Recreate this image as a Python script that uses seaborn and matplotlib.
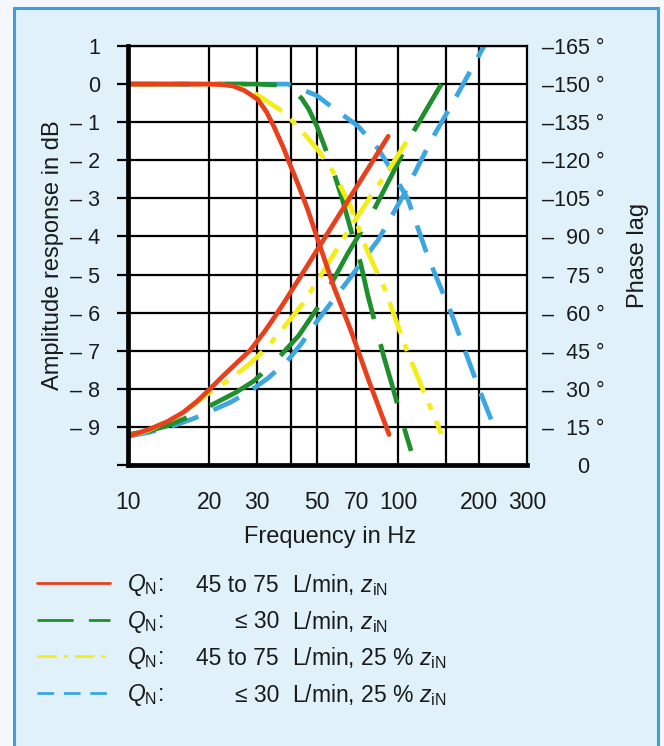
import numpy as np
import pandas as pd
import matplotlib
matplotlib.use("Agg")
import matplotlib.pyplot as plt
import seaborn as sns
from matplotlib.patches import Rectangle
from matplotlib.lines import Line2D
from matplotlib.ticker import NullFormatter

sns.set_theme(style="white")
plt.rcParams['font.family'] = ['Liberation Sans', 'DejaVu Sans']
plt.rcParams['mathtext.fontset'] = 'custom'
plt.rcParams['mathtext.rm'] = 'Liberation Sans'
plt.rcParams['mathtext.it'] = 'Liberation Sans:italic'
plt.rcParams['mathtext.bf'] = 'Liberation Sans:bold'

# ---------------- data ----------------
# amplitude in dB on the left axis; phase curves expressed on the same
# scale (phase_deg = (value + 10) * 15)
red_amp_f = [10, 20, 22, 24.5, 27, 30.2, 32.5, 34.6, 37.5, 40, 43, 46.3, 50.5, 58, 66.7, 78, 92.6]
red_amp_v = [0, 0, -0.01, -0.05, -0.17, -0.4, -0.72, -1.1, -1.65, -2.15, -2.7, -3.3, -4.1, -5.35, -6.45, -7.8, -9.2]
red_ph_f = [10, 12, 14, 16, 18, 20, 22.5, 25, 28.4, 32, 35, 37.7, 44, 50.9, 58, 66.7, 78, 91.9]
red_ph_v = [-9.25, -9.06, -8.86, -8.62, -8.33, -8.02, -7.66, -7.35, -6.98, -6.5, -6.1, -5.75, -5.0, -4.28, -3.64, -2.95, -2.18, -1.37]

green_amp_f = [10, 30, 35, 38, 41, 44, 46.7, 50, 53.5, 57.3, 62, 67, 72.9, 77.2, 83, 88.7, 95.6, 103, 111.7]
green_amp_v = [0, 0, -0.02, -0.06, -0.18, -0.38, -0.66, -1.1, -1.65, -2.24, -3.0, -3.85, -4.75, -5.54, -6.4, -7.18, -7.97, -8.8, -9.63]
green_ph_f = [10, 12, 14, 17, 20.7, 25, 29.2, 33, 37, 42.9, 50, 58, 65.3, 80, 94.1, 115, 144.6]
green_ph_v = [-9.2, -9.1, -8.97, -8.72, -8.4, -8.1, -7.8, -7.45, -7.1, -6.6, -5.9, -5.1, -4.43, -3.4, -2.43, -1.2, 0.0]

yellow_amp_f = [10, 20, 24, 28.4, 32, 37.7, 43, 50.4, 57.7, 66.7, 77.4, 88.7, 108.7, 125, 144.5]
yellow_amp_v = [0, 0, -0.03, -0.18, -0.4, -0.74, -1.15, -1.72, -2.32, -3.22, -4.43, -5.33, -7.07, -8.1, -9.18]
yellow_ph_f = [10, 12, 15, 17.5, 20, 24, 28.4, 33, 37.7, 44, 50.4, 66.7, 80, 94.1, 108.7]
yellow_ph_v = [-9.25, -9.08, -8.75, -8.42, -8.1, -7.73, -7.33, -6.88, -6.39, -5.8, -5.15, -3.75, -2.9, -2.16, -1.45]

blue_amp_f = [10, 39, 43.6, 50, 56.3, 71, 84.4, 94.1, 108.7, 129, 157, 198.5, 222]
blue_amp_v = [0, 0, -0.13, -0.3, -0.58, -1.1, -1.7, -2.24, -3.03, -4.54, -6.0, -7.97, -8.84]
blue_ph_f = [10, 12, 15, 17.5, 20, 24, 28.4, 33, 39, 44, 50.4, 66.7, 84.4, 105, 132, 165, 208]
blue_ph_v = [-9.25, -9.14, -8.95, -8.78, -8.6, -8.35, -8.05, -7.72, -7.26, -6.8, -6.2, -5.07, -4.09, -2.9, -1.5, -0.3, 1.0]

x_tick_vals = [10, 20, 30, 50, 70, 100, 200, 300]
x_grid_vals = [20, 30, 40, 50, 70, 100, 150, 200]
y_tick_vals = list(range(-10, 2))
y_tick_labels = ['' if v == -10 else ('– %d' % -v if v < 0 else str(v)) for v in y_tick_vals]
phase_vals = list(range(0, 166, 15))
phase_labels = []
for v in phase_vals:
    if v == 0:
        phase_labels.append('      0')
    elif v >= 100:
        phase_labels.append('–%d °' % v)
    else:
        phase_labels.append('–  %d °' % v)

legend_prefix = ['45 to 75', '≤ 30', '45 to 75', '≤ 30']
legend_suffix = [r'L/min, $z_{\mathrm{iN}}$', r'L/min, $z_{\mathrm{iN}}$',
                 r'L/min, 25 % $z_{\mathrm{iN}}$', r'L/min, 25 % $z_{\mathrm{iN}}$']

RED = '#e8401c'
GREEN = '#1f8f2e'
YELLOW = '#f3ee18'
BLUE = '#3ba7e2'
LW = 3.4
styles = {
    'red': dict(color=RED, linestyle='-'),
    'green': dict(color=GREEN, linestyle=(0, (13, 5.5))),
    'yellow': dict(color=YELLOW, linestyle=(0, (7, 2.5, 1.5, 2.5))),
    'blue': dict(color=BLUE, linestyle=(0, (6, 3.5))),
}
TXT = '#1a1a1a'
TICK_FS = 15.5
XTICK_FS = 16.5
LABEL_FS = 17
LEG_FS = 16.5

# ---------------- figure ----------------
W, H = 664, 746
fig = plt.figure(figsize=(W / 100, H / 100), dpi=100)
fig.patch.set_facecolor('#f4f8fa')
fig.patches.append(Rectangle((14 / W, -0.05), (658 - 14) / W, (1 - 8 / H) + 0.05,
                             transform=fig.transFigure, facecolor='#e0f1f9',
                             edgecolor='#3f9edc', lw=2.2, zorder=-10))

ax = fig.add_axes([128 / W, 1 - 465 / H, (527 - 128) / W, (465 - 46) / H])
ax.set_zorder(1)
ax.set_facecolor('white')
ax.set_xscale('log')

order = [('blue', blue_amp_f, blue_amp_v), ('blue', blue_ph_f, blue_ph_v),
         ('green', green_amp_f, green_amp_v), ('green', green_ph_f, green_ph_v),
         ('yellow', yellow_amp_f, yellow_amp_v), ('yellow', yellow_ph_f, yellow_ph_v),
         ('red', red_amp_f, red_amp_v), ('red', red_ph_f, red_ph_v)]
for name, f, v in order:
    sns.lineplot(x=f, y=v, ax=ax, lw=LW, sort=False, **styles[name])

ax.set_xlim(10, 300)
ax.set_ylim(-10, 1)
ax.xaxis.remove_overlapping_locs = False
ax.set_xticks(x_tick_vals)
ax.set_xticklabels([str(v) for v in x_tick_vals])
ax.set_xticks(x_grid_vals, minor=True)
ax.xaxis.set_minor_formatter(NullFormatter())
ax.set_yticks(y_tick_vals)
ax.set_yticklabels(y_tick_labels)
ax.set_axisbelow(True)
ax.xaxis.grid(False, which='major')
ax.xaxis.grid(True, which='minor', color='black', lw=1.6)
ax.yaxis.grid(True, which='major', color='black', lw=1.6)
ax.tick_params(axis='x', which='both', length=0, pad=19, labelsize=XTICK_FS, colors=TXT)
ax.tick_params(axis='y', which='major', left=True, length=8, width=1.6, pad=12,
               direction='out', labelsize=TICK_FS, color='black', labelcolor=TXT)
for s in ['left', 'bottom']:
    ax.spines[s].set_linewidth(3.4)
    ax.spines[s].set_color('black')
for s in ['top', 'right']:
    ax.spines[s].set_linewidth(1.6)
    ax.spines[s].set_color('black')

ax.set_xlabel('Frequency in Hz', fontsize=LABEL_FS, color=TXT)
ax.xaxis.set_label_coords(0.506, -0.145)
ax.xaxis.label.set_va('top')
ax.set_ylabel('Amplitude response in dB', fontsize=LABEL_FS, color=TXT)
ax.yaxis.set_label_coords(-0.16, 0.5)

ax2 = ax.twinx()
ax2.set_zorder(2)
ax2.patch.set_visible(False)
ax2.set_ylim(0, 165)
ax2.set_yticks(phase_vals)
ax2.set_yticklabels(phase_labels)
ax2.grid(False)
ax2.tick_params(axis='y', length=0, pad=11, labelsize=TICK_FS, labelcolor=TXT)
for s in ax2.spines.values():
    s.set_visible(False)
ax2.set_ylabel('Phase lag', fontsize=LABEL_FS, color=TXT)
ax2.yaxis.set_label_coords(1.251, 0.5)

# ---------------- legend ----------------
handles = [Line2D([], [], lw=2.0, **styles[n]) for n in ['red', 'green', 'yellow', 'blue']]
labels = [r'$Q_{\mathrm{N}}$:'] * 4
row_y = [585, 621, 658, 695]   # target row centres (pixels from top)
fs_px = LEG_FS * 100 / 72


def make_legend(top, spacing):
    return fig.legend(handles, labels, loc='upper left', bbox_to_anchor=(37 / W, 1 - top / H),
                      frameon=False, fontsize=LEG_FS, handlelength=73 / fs_px,
                      handletextpad=17 / fs_px, labelspacing=spacing,
                      borderpad=0, borderaxespad=0)


top, spacing = 572, 0.5
leg = make_legend(top, spacing)
for _ in range(3):
    fig.canvas.draw()
    r = fig.canvas.get_renderer()
    cs = [H - (t.get_window_extent(r).y0 + t.get_window_extent(r).y1) / 2 for t in leg.get_texts()]
    d = (cs[-1] - cs[0]) / 3
    spacing += ((row_y[-1] - row_y[0]) / 3 - d) / fs_px
    top += row_y[0] - cs[0]
    leg.remove()
    leg = make_legend(top, spacing)
for t in leg.get_texts():
    t.set_color(TXT)

fig.canvas.draw()
renderer = fig.canvas.get_renderer()
for t, pre, suf in zip(leg.get_texts(), legend_prefix, legend_suffix):
    bb = t.get_window_extent(renderer)
    yc = (bb.y0 + bb.y1) / 2 / H
    fig.text(279 / W, yc, pre, ha='right', va='center', fontsize=LEG_FS, color=TXT)
    fig.text(292 / W, yc, suf, ha='left', va='center', fontsize=LEG_FS, color=TXT)

fig.savefig('out.png', dpi=100, facecolor=fig.get_facecolor())
